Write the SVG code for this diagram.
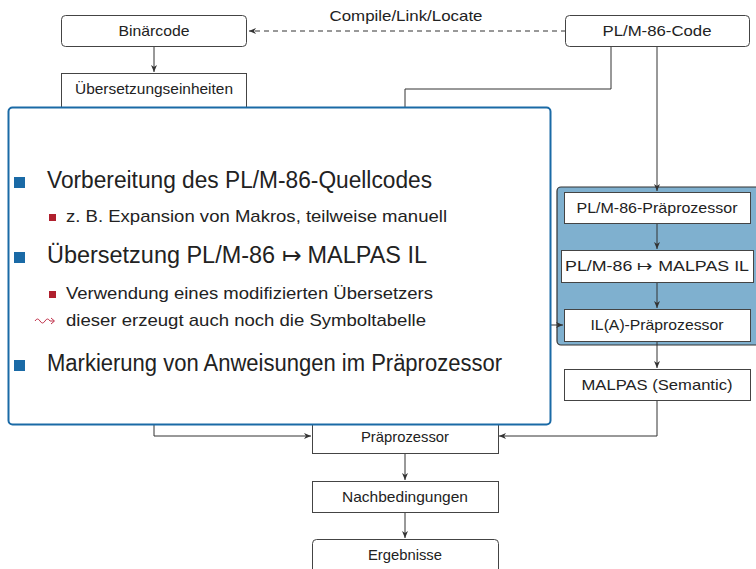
<svg xmlns="http://www.w3.org/2000/svg" width="756" height="569" viewBox="0 0 756 569">
<defs>
<marker id="ah" viewBox="0 0 8 8" refX="7" refY="4" markerWidth="8" markerHeight="8" markerUnits="userSpaceOnUse" orient="auto">
<path d="M0,1 L7,4 L0,7 L2,4 Z" fill="#333"/>
</marker>
<style>
.n{fill:#fff;stroke:#444;stroke-width:1}
.t{font-family:"Liberation Sans",Arial,sans-serif;font-size:14.5px;fill:#222;text-anchor:middle}
.c{fill:none;stroke:#333;stroke-width:1}
.big{font-family:"Liberation Sans",Arial,sans-serif;font-size:23px;fill:#222}
.sm{font-family:"Liberation Sans",Arial,sans-serif;font-size:17px;fill:#222}
.bb{fill:#1a6aa6}
.rb{fill:#b0202e}
</style>
</defs>
<rect width="756" height="569" fill="#fff"/>
<g id="group-box"><rect x="557" y="187" width="204" height="158" rx="4" fill="#7fb0cf" stroke="#333" stroke-width="1.2"/></g>
<g id="connectors">
<path class="c" d="M566,31 H249" stroke-dasharray="5,4" marker-end="url(#ah)"/>
<path class="c" d="M154,46 V72" marker-end="url(#ah)"/>
<path class="c" d="M611,46 V89 H405 V108"/>
<path class="c" d="M657,46 V191" marker-end="url(#ah)"/>
<path class="c" d="M657,223 V249" marker-end="url(#ah)"/>
<path class="c" d="M657,282 V308" marker-end="url(#ah)"/>
<path class="c" d="M551,325 H563" marker-end="url(#ah)"/>
<path class="c" d="M657,341 V368" marker-end="url(#ah)"/>
<path class="c" d="M657,400 V436 H499" marker-end="url(#ah)"/>
<path class="c" d="M154,420 V436 H311" marker-end="url(#ah)"/>
<path class="c" d="M405,453 V480" marker-end="url(#ah)"/>
<path class="c" d="M405,512 V538" marker-end="url(#ah)"/>
<text x="406" y="21" class="t" textLength="153" lengthAdjust="spacingAndGlyphs">Compile/Link/Locate</text>
</g>
<g id="binaercode"><rect class="n" x="61.5" y="15.5" width="185" height="31" rx="4"/><text x="154" y="36" class="t" textLength="71" lengthAdjust="spacingAndGlyphs">Binärcode</text></g>
<g id="uebersetzungseinheiten"><rect class="n" x="61.5" y="73.5" width="185" height="40"/><text x="154" y="94" class="t" textLength="158" lengthAdjust="spacingAndGlyphs">Übersetzungseinheiten</text></g>
<g id="plm-code"><rect class="n" x="565.5" y="15.5" width="184" height="31" rx="4"/><text x="657" y="36" class="t" textLength="109" lengthAdjust="spacingAndGlyphs">PL/M-86-Code</text></g>
<g id="plm-praeprozessor"><rect class="n" x="564.5" y="192.5" width="186" height="31"/><text x="657" y="213" class="t" textLength="161" lengthAdjust="spacingAndGlyphs">PL/M-86-Präprozessor</text></g>
<g id="plm-malpas"><rect class="n" x="561.5" y="250.5" width="192" height="32"/><text x="657" y="271" class="t" textLength="184" lengthAdjust="spacingAndGlyphs">PL/M-86 ↦ MALPAS IL</text></g>
<g id="il-praeprozessor"><rect class="n" x="564.5" y="309.5" width="186" height="32"/><text x="657" y="330" class="t" textLength="133" lengthAdjust="spacingAndGlyphs">IL(A)-Präprozessor</text></g>
<g id="malpas-semantic"><rect class="n" x="564.5" y="369.5" width="186" height="31"/><text x="657" y="390" class="t" textLength="151" lengthAdjust="spacingAndGlyphs">MALPAS (Semantic)</text></g>
<g id="praeprozessor"><rect class="n" x="312.5" y="418.5" width="186" height="35"/><text x="405" y="442" class="t" textLength="88" lengthAdjust="spacingAndGlyphs">Präprozessor</text></g>
<g id="nachbedingungen"><rect class="n" x="312.5" y="481.5" width="186" height="31"/><text x="405" y="502" class="t" textLength="126" lengthAdjust="spacingAndGlyphs">Nachbedingungen</text></g>
<g id="ergebnisse"><rect class="n" x="312.5" y="539.5" width="186" height="36" rx="4"/><text x="405" y="560" class="t" textLength="74" lengthAdjust="spacingAndGlyphs">Ergebnisse</text></g>
<g id="overlay">
<rect x="8.5" y="107.5" width="542" height="317" rx="4" fill="#fff" stroke="#1a6aa6" stroke-width="2"/>
<rect class="bb" x="14" y="177" width="11" height="11"/>
<text class="big" x="47" y="188" textLength="385" lengthAdjust="spacingAndGlyphs">Vorbereitung des PL/M-86-Quellcodes</text>
<rect class="rb" x="49" y="214" width="7" height="7"/>
<text class="sm" x="66" y="222" textLength="381" lengthAdjust="spacingAndGlyphs">z. B. Expansion von Makros, teilweise manuell</text>
<rect class="bb" x="14" y="252" width="11" height="11"/>
<text class="big" x="47" y="263" textLength="380" lengthAdjust="spacingAndGlyphs">Übersetzung PL/M-86 ↦ MALPAS IL</text>
<rect class="rb" x="49" y="291" width="7" height="7"/>
<text class="sm" x="66" y="299" textLength="367" lengthAdjust="spacingAndGlyphs">Verwendung eines modifizierten Übersetzers</text>
<path d="M35,321 q2.5,-4 5,0 t5,0 t5,0 L54,321" fill="none" stroke="#c0304a" stroke-width="1"/>
<path d="M51,318 L54.5,321 L51,324" fill="none" stroke="#c0304a" stroke-width="1"/>
<text class="sm" x="66" y="326" textLength="360" lengthAdjust="spacingAndGlyphs">dieser erzeugt auch noch die Symboltabelle</text>
<rect class="bb" x="14" y="360" width="11" height="11"/>
<text class="big" x="47" y="371" textLength="455" lengthAdjust="spacingAndGlyphs">Markierung von Anweisungen im Präprozessor</text>
</g>
</svg>
